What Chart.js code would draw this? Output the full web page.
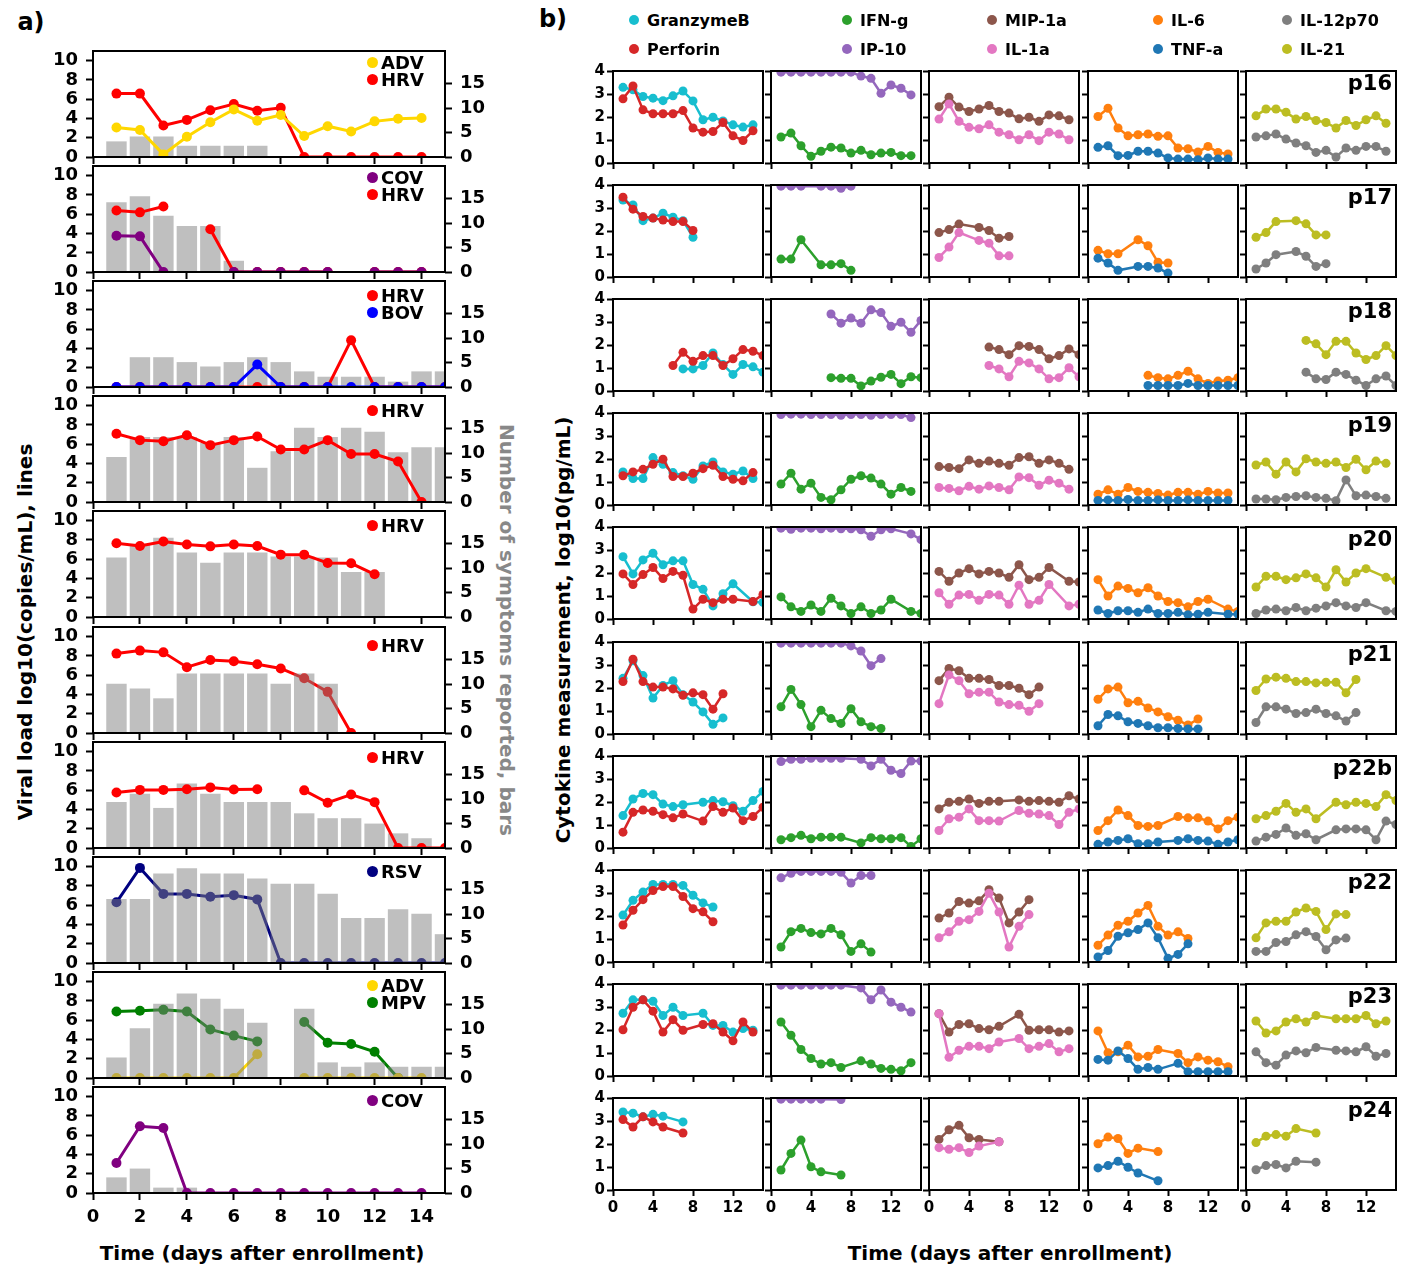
<!DOCTYPE html>
<html>
<head>
<meta charset="utf-8">
<title>Viral load, symptoms and cytokines</title>
<script src="https://cdn.jsdelivr.net/npm/chart.js@4.4.1/dist/chart.umd.min.js"></script>
<style>
  html, body { margin: 0; padding: 0; background: #fff; }
  body { position: relative; width: 1406px; height: 1270px; overflow: hidden; font-family: 'DejaVu Sans', sans-serif; color: #000; }
  canvas { position: absolute; }
  .txt { position: absolute; white-space: nowrap; font-weight: bold; }
  .ctr { transform: translate(-50%, -50%); }
  .up { transform: translate(-50%, -50%) rotate(-90deg); }
  .down { transform: translate(-50%, -50%) rotate(90deg); }
  .dot { display: inline-block; border-radius: 50%; flex: none; }
</style>
</head>
<body>
<div class="txt ctr" style="left:31px; top:22px; font-size:24px;">a)</div>
<div class="txt ctr" style="left:553px; top:19px; font-size:24px;">b)</div>
<div class="txt up" style="left:25px; top:632px; font-size:20px;">Viral load log10(copies/mL), lines</div>
<div class="txt down" style="left:507px; top:630px; font-size:20px; color:#888;">Number of symptoms reported, bars</div>
<div class="txt ctr" style="left:262px; top:1253px; font-size:20px;">Time (days after enrollment)</div>
<div class="txt up" style="left:563px; top:630px; font-size:20px;">Cytokine measurement, log10(pg/mL)</div>
<div class="txt ctr" style="left:1010px; top:1253px; font-size:20px;">Time (days after enrollment)</div>
<script>
// ---------- panel a: viral load (lines, left axis) and symptoms (bars, right axis), day 1..15
const rowViruses = [['ADV', 'HRV'], ['COV', 'HRV'], ['HRV', 'BOV'], ['HRV'], ['HRV'], ['HRV'], ['HRV'], ['RSV'], ['ADV', 'MPV'], ['COV']];

const viralLoad = [
  [[3.07, 2.8, 0.27, 2.1, 3.6, 4.94, 3.77, 4.36, 2.18, 3.2, 2.65, 3.7, 3.97, 4.05],
   [6.58, 6.58, 3.27, 3.85, 4.86, 5.5, 4.8, 5.1, 0, 0, 0, 0, 0, 0]],
  [[3.77, 3.7, 0, null, null, 0, 0, 0, 0, 0, null, 0, 0, 0],
   [6.38, 6.19, 6.8, null, 4.44, 0, 0, 0, 0, 0, null, 0, 0, 0]],
  [[0, 0, 0, 0, 0, 0, 0, 0, 0, 0, 4.86, 0, 0, 0, 0],
   [0, 0, 0, 0, 0, 0, 2.33, 0, 0, 0, 0, 0, 0, 0, 0]],
  [[7.08, 6.42, 6.3, 6.93, 5.9, 6.42, 6.8, 5.45, 5.45, 6.42, 4.98, 4.98, 4.2, 0]],
  [[7.65, 7.37, 7.84, 7.53, 7.33, 7.53, 7.37, 6.47, 6.47, 5.6, 5.57, 4.43]],
  [[8.24, 8.55, 8.37, 6.83, 7.58, 7.44, 7.14, 6.7, 5.68, 4.27, 0]],
  [[5.76, 6.03, 6.03, 6.1, 6.29, 6.07, 6.1, null, 5.98, 4.7, 5.55, 4.76, 0, 0, 0]],
  [[6.3, 9.87, 7.17, 7.17, 6.87, 7.04, 6.6, 0, 0, 0, 0, 0, 0, 0, 0]],
  [[0, 0, 0, 0, 0, 0, 2.46, null, 0, 0, 0, 0, 0, 0],
   [6.9, 6.98, 7.07, 6.9, 5.04, 4.4, 3.8, null, 5.82, 3.66, 3.53, 2.72, 0]],
  [[3.12, 6.93, 6.75, 0, 0, 0, 0, 0, 0, 0, 0, 0, 0, 0]]
];

const symptoms = [
  [3.2, 4.2, 4.2, 2.3, 2.3, 2.3, 2.3],
  [14.3, 15.5, 11.5, 9.4, 9.4, 2.3],
  [null, 6.1, 6.1, 5.1, 4.2, 5.1, 6.1, 5.1, 3.2, 2.1, 2.1, 2.1, 1.1, 3.2, 3.2],
  [9.2, 13.3, 13.3, 13.3, 12.1, 13.3, 7.0, 10.4, 15.2, 13.3, 15.2, 14.4, 10.2, 11.2, 11.2],
  [12.2, 15.0, 16.2, 13.2, 11.1, 13.2, 13.2, 12.4, 12.4, 12.2, 9.2, 9.2],
  [10.1, 9.1, 7.1, 12.2, 12.2, 12.2, 12.2, 10.1, 12.2, 10.1],
  [9.4, 11.1, 8.2, 13.2, 11.1, 9.4, 9.4, 9.4, 7.1, 6.1, 6.1, 5.0, 3.0, 2.0],
  [13.1, 13.1, 18.3, 19.4, 18.3, 18.3, 17.3, 16.2, 16.2, 14.2, 9.2, 9.2, 11.0, 10.1, 5.9],
  [4.2, 10.2, 15.2, 17.3, 16.2, 14.2, 11.3, null, 14.2, 3.2, 2.3, 3.2, 2.3, 2.3, 2.3],
  [3.2, 5.0, 1.1, 1.1]
];

// ---------- panel b: cytokines, one sub-array per patient, day 1..15
const patients = ['p16', 'p17', 'p18', 'p19', 'p20', 'p21', 'p22b', 'p22', 'p23', 'p24'];
const _ = null;

const granzymeB = [
  [3.29, 3.18, 2.89, 2.82, 2.71, 2.92, 3.13, 2.7, 1.88, 1.99, 1.83, 1.66, 1.56, 1.66],
  [3.35, 3.13, 2.45, 2.56, 2.77, 2.6, 2.45, 1.73],
  [_, _, _, _, _, _, 0.96, 0.96, 1.11, 1.65, 1.15, 0.72, 1.15, 1.05, 0.82],
  [1.44, 1.15, 1.15, 2.06, 1.77, 1.41, 1.27, 1.12, 1.7, 1.87, 1.44, 1.34, 1.48, 1.15],
  [2.71, 1.96, 2.57, 2.86, 2.36, 2.53, 2.53, 1.5, 1.29, 0.57, 1.1, 1.53, _, 0.75, 0.72],
  [2.42, 3.18, 2.54, 1.56, 2.11, 2.32, 1.71, 1.39, 0.96, 0.42, 0.7],
  [1.41, 2.13, 2.37, 2.32, 1.91, 1.8, 1.88, _, 1.99, 2.06, 2.01, 1.84, 1.6, 2.06, 2.46],
  [2.04, 2.68, 3.04, 3.37, 3.37, 3.37, 3.33, 2.9, 2.57, 2.39],
  [2.73, 3.31, 3.31, 3.25, 2.63, 2.99, 2.63, _, 2.73, 2.2, 2.2, 1.91, 2.06, 1.99],
  [3.39, 3.34, 3.18, 3.29, 3.21, _, 2.96]
];
const perforin = [
  [2.79, 3.35, 2.31, 2.14, 2.14, 2.14, 2.28, 1.52, 1.34, 1.37, 1.76, 1.18, 0.98, 1.4],
  [3.47, 2.95, 2.63, 2.56, 2.48, 2.41, 2.41, 2.02],
  [_, _, _, _, _, 1.11, 1.68, 1.29, 1.54, 1.54, 1.11, 1.4, 1.8, 1.73, 1.54],
  [1.27, 1.44, 1.55, 1.77, 1.99, 1.24, 1.24, 1.38, 1.58, 1.73, 1.24, 1.12, 1.05, 1.41],
  [1.96, 1.5, 1.93, 2.24, 1.76, 2.07, 1.9, 0.43, 0.86, 0.71, 0.86, 0.86, _, 0.76, 1.07],
  [2.28, 3.25, 2.28, 2.04, 2.04, 1.96, 1.68, 1.79, 1.71, 1.08, 1.75],
  [0.69, 1.55, 1.65, 1.6, 1.45, 1.31, 1.48, _, 1.17, 1.8, 1.55, 1.74, 1.19, 1.37, 1.77],
  [1.61, 2.25, 2.71, 3.11, 3.28, 3.28, 2.85, 2.32, 2.18, 1.75],
  [2.01, 2.99, 3.31, 2.82, 1.91, 2.45, 1.99, _, 2.24, 2.27, 1.91, 1.53, 2.35, 1.91],
  [3.06, 2.74, 3.18, 2.96, 2.74, _, 2.48]
];
const ifnG = [
  [1.13, 1.3, 0.75, 0.29, 0.51, 0.69, 0.65, 0.43, 0.55, 0.36, 0.43, 0.46, 0.32, 0.32],
  [0.78, 0.78, 1.62, _, 0.53, 0.53, 0.58, 0.29],
  [_, _, _, _, _, 0.58, 0.55, 0.55, 0.22, 0.43, 0.6, 0.72, 0.32, 0.62, 0.58],
  [0.91, 1.38, 0.69, 0.95, 0.33, 0.23, 0.66, 1.12, 1.27, 1.17, 0.91, 0.47, 0.76, 0.59],
  [0.96, 0.53, 0.33, 0.61, 0.33, 0.9, 0.57, 0.24, 0.53, 0.24, 0.39, 0.86, _, 0.33, 0.24],
  [1.18, 1.94, 1.28, 0.32, 1.03, 0.67, 0.46, 1.1, 0.53, 0.32, 0.24],
  [0.36, 0.45, 0.55, 0.4, 0.47, 0.47, 0.47, _, 0.22, 0.45, 0.4, 0.4, 0.45, 0.07, 0.4],
  [0.65, 1.32, 1.46, 1.28, 1.22, 1.46, 1.18, 0.46, 0.79, 0.43],
  [2.35, 1.77, 1.15, 0.76, 0.52, 0.58, 0.37, _, 0.66, 0.52, 0.33, 0.29, 0.23, 0.58],
  [0.87, 1.59, 2.17, 1.01, 0.79, _, 0.65]
];
const ip10 = [
  [3.95, 3.95, 3.95, 3.95, 3.95, 3.95, 3.95, 3.95, 3.78, 3.68, 3.03, 3.39, 3.25, 2.96],
  [3.95, 3.95, 3.95, _, 3.95, 3.95, 3.86, 3.95],
  [_, _, _, _, _, 3.35, 2.95, 3.17, 2.95, 3.53, 3.41, 2.81, 2.99, 2.55, 3.07],
  [3.93, 3.95, 3.95, 3.93, 3.93, 3.93, 3.9, 3.93, 3.93, 3.9, 3.93, 3.93, 3.93, 3.8],
  [3.95, 3.9, 3.95, 3.95, 3.92, 3.95, 3.92, 3.92, 3.88, 3.6, 3.88, 3.92, _, 3.7, 3.45],
  [3.95, 3.95, 3.95, 3.95, 3.95, 3.95, 3.95, 3.83, 3.61, 2.97, 3.28],
  [3.76, 3.86, 3.86, 3.9, 3.9, 3.9, 3.9, _, 3.86, 3.57, 3.86, 3.38, 3.24, 3.78, 3.78],
  [3.66, 3.86, 3.94, 3.94, 3.94, 3.94, 3.9, 3.43, 3.76, 3.76],
  [3.95, 3.95, 3.95, 3.95, 3.95, 3.95, 3.95, _, 3.83, 3.31, 3.74, 3.21, 2.99, 2.78],
  [3.95, 3.95, 3.95, 3.95, 3.95, _, 3.93]
];
const mip1a = [
  [2.45, 2.86, 2.43, 2.24, 2.35, 2.5, 2.24, 2.17, 1.92, 1.99, 1.81, 2.09, 2.05, 1.88],
  [1.93, 2.06, 2.3, _, 2.15, 2.02, 1.69, 1.76],
  [_, _, _, _, _, 1.91, 1.8, 1.58, 1.97, 1.94, 1.8, 1.4, 1.54, 1.83, 1.58],
  [1.67, 1.63, 1.58, 1.96, 1.81, 1.91, 1.81, 1.73, 2.06, 2.1, 1.81, 1.96, 1.81, 1.55],
  [2.07, 1.64, 2.0, 2.19, 1.96, 2.07, 2.0, 1.81, 2.36, 1.71, 1.81, 2.24, _, 1.64, 1.61],
  [2.32, 2.85, 2.75, 2.42, 2.42, 2.37, 2.11, 2.11, 1.99, 1.71, 2.04],
  [1.7, 1.99, 2.03, 2.13, 1.94, 2.03, 2.03, _, 2.09, 2.03, 2.06, 2.03, 1.99, 2.27, 2.13],
  [1.91, 2.13, 2.63, 2.56, 2.66, 3.14, 2.78, 1.7, 2.17, 2.71],
  [2.71, 1.91, 2.24, 2.27, 2.06, 2.01, 2.16, _, 2.68, 1.99, 2.01, 2.01, 1.91, 1.96],
  [2.2, 2.62, 2.81, 2.27, 2.2, _, 2.1]
];
const il1a = [
  [1.91, 2.57, 1.81, 1.55, 1.49, 1.66, 1.34, 1.23, 1.01, 1.23, 0.97, 1.34, 1.26, 1.01],
  [0.85, 1.3, 1.93, _, 1.59, 1.47, 0.92, 0.92],
  [_, _, _, _, _, 1.11, 0.96, 0.62, 1.29, 1.22, 0.96, 0.53, 0.58, 1.01, 0.62],
  [0.76, 0.72, 0.62, 0.81, 0.69, 0.83, 0.76, 0.66, 1.22, 1.19, 0.86, 1.08, 0.95, 0.69],
  [1.14, 0.64, 1.04, 1.07, 0.81, 1.07, 1.04, 0.64, 1.47, 0.64, 0.81, 1.5, _, 0.57, 0.64],
  [1.32, 2.57, 2.32, 1.75, 1.82, 1.82, 1.39, 1.28, 1.25, 0.99, 1.32],
  [0.76, 1.27, 1.34, 1.7, 1.19, 1.19, 1.17, _, 1.63, 1.51, 1.48, 1.41, 1.02, 1.55, 1.7],
  [1.05, 1.31, 1.77, 1.84, 2.2, 2.99, 2.17, 0.65, 1.55, 2.06],
  [2.71, 0.81, 1.12, 1.29, 1.29, 1.19, 1.48, _, 1.63, 1.19, 1.29, 1.41, 1.05, 1.19],
  [1.84, 1.77, 1.84, 1.63, 1.91, _, 2.1]
];
const il6 = [
  [2.02, 2.38, 1.52, 1.18, 1.23, 1.26, 1.16, 1.18, 0.65, 0.62, 0.48, 0.72, 0.46, 0.39],
  [1.16, 1.01, 1.01, _, 1.62, 1.36, 0.64, 0.61],
  [_, _, _, _, _, 0.68, 0.58, 0.53, 0.68, 0.86, 0.53, 0.33, 0.43, 0.47, 0.58],
  [0.47, 0.66, 0.47, 0.76, 0.59, 0.55, 0.5, 0.43, 0.55, 0.55, 0.47, 0.59, 0.52, 0.52],
  [1.71, 1.0, 1.43, 1.33, 1.14, 1.36, 1.0, 0.76, 0.71, 0.53, 0.76, 0.86, _, 0.43, 0.33],
  [1.51, 1.96, 2.04, 1.36, 1.42, 1.13, 0.96, 0.75, 0.6, 0.39, 0.65],
  [0.76, 1.19, 1.65, 1.41, 0.98, 0.94, 0.98, _, 1.37, 1.31, 1.31, 1.17, 0.83, 1.19, 1.34],
  [0.73, 1.17, 1.6, 1.77, 2.13, 2.46, 1.55, 1.17, 1.31, 1.02],
  [1.96, 1.01, 1.05, 1.34, 0.83, 0.86, 1.15, _, 0.98, 0.58, 0.83, 0.69, 0.62, 0.4],
  [2.01, 2.3, 2.24, 1.59, 1.82, _, 1.67]
];
const tnfA = [
  [0.68, 0.75, 0.32, 0.33, 0.51, 0.51, 0.43, 0.22, 0.17, 0.17, 0.14, 0.22, 0.17, 0.17],
  [0.82, 0.61, 0.29, _, 0.46, 0.46, 0.39, 0.17],
  [_, _, _, _, _, 0.24, 0.24, 0.24, 0.24, 0.33, 0.24, 0.24, 0.24, 0.24, 0.24],
  [0.2, 0.22, 0.2, 0.24, 0.2, 0.2, 0.22, 0.2, 0.2, 0.22, 0.2, 0.2, 0.2, 0.2],
  [0.39, 0.24, 0.36, 0.36, 0.29, 0.43, 0.24, 0.24, 0.29, 0.19, 0.21, 0.29, _, 0.21, 0.21],
  [0.36, 0.85, 0.79, 0.53, 0.46, 0.36, 0.27, 0.27, 0.24, 0.22, 0.22],
  [0.16, 0.26, 0.33, 0.4, 0.19, 0.19, 0.26, _, 0.33, 0.4, 0.33, 0.3, 0.16, 0.26, 0.36],
  [0.22, 0.5, 1.12, 1.27, 1.41, 1.7, 1.05, 0.16, 0.33, 0.79],
  [0.72, 0.69, 1.09, 0.76, 0.29, 0.37, 0.29, _, 0.55, 0.19, 0.19, 0.19, 0.19, 0.19],
  [0.96, 1.06, 1.25, 0.99, 0.74, _, 0.4]
];
const il12p70 = [
  [1.13, 1.18, 1.26, 1.04, 0.87, 0.75, 0.46, 0.55, 0.26, 0.65, 0.55, 0.72, 0.72, 0.51],
  [0.35, 0.61, 0.97, _, 1.11, 0.9, 0.46, 0.58],
  [_, _, _, _, _, 0.82, 0.53, 0.5, 0.82, 0.72, 0.47, 0.24, 0.53, 0.65, 0.24],
  [0.26, 0.26, 0.23, 0.33, 0.37, 0.4, 0.33, 0.29, 0.19, 1.09, 0.4, 0.43, 0.37, 0.29],
  [0.24, 0.39, 0.43, 0.36, 0.5, 0.36, 0.47, 0.57, 0.71, 0.57, 0.5, 0.71, _, 0.36, 0.33],
  [0.5, 1.18, 1.18, 1.08, 0.89, 0.93, 1.08, 0.89, 0.79, 0.56, 0.93],
  [0.3, 0.47, 0.59, 0.87, 0.55, 0.62, 0.36, _, 0.79, 0.83, 0.83, 0.79, 0.36, 1.17, 1.02],
  [0.46, 0.46, 0.85, 0.89, 1.18, 1.32, 1.11, 0.53, 0.96, 1.04],
  [1.05, 0.58, 0.47, 0.91, 1.09, 1.01, 1.24, _, 1.12, 1.09, 1.05, 1.27, 0.86, 0.98],
  [0.88, 1.06, 1.11, 0.96, 1.25, _, 1.21]
];
const il21 = [
  [2.05, 2.35, 2.35, 2.21, 1.91, 2.02, 1.85, 1.76, 1.52, 1.85, 1.63, 1.88, 2.05, 1.73],
  [1.73, 1.93, 2.41, _, 2.45, 2.31, 1.83, 1.83],
  [_, _, _, _, _, 2.2, 2.05, 1.58, 2.16, 2.16, 1.65, 1.37, 1.54, 1.97, 1.54],
  [1.74, 1.87, 1.34, 1.87, 1.44, 2.01, 1.87, 1.81, 1.87, 1.63, 1.99, 1.53, 1.91, 1.81],
  [1.39, 1.86, 1.86, 1.71, 1.79, 1.96, 1.79, 1.39, 2.14, 1.61, 2.0, 2.19, _, 1.81, 1.67],
  [1.89, 2.39, 2.47, 2.42, 2.28, 2.28, 2.22, 2.25, 2.25, 1.79, 2.37],
  [1.27, 1.41, 1.6, 1.94, 1.55, 1.7, 1.27, _, 1.99, 1.88, 1.99, 1.94, 1.8, 2.32, 2.06],
  [1.05, 1.7, 1.77, 1.77, 2.17, 2.35, 2.2, 1.41, 2.09, 2.06],
  [2.39, 1.87, 1.96, 2.35, 2.49, 2.35, 2.63, _, 2.49, 2.49, 2.49, 2.63, 2.27, 2.39],
  [2.06, 2.34, 2.41, 2.34, 2.67, _, 2.48]
];

// ---------- styling / layout
const virusColors = { HRV: '#ff0000', ADV: '#ffd700', COV: '#800080', BOV: '#0000ff', RSV: '#000080', MPV: '#008000' };
const onTop = ['ADV', 'COV', 'BOV', null, null, null, null, null, 'ADV', null];
const barsFront = [false, false, false, false, false, true, false, true, true, false];
const legendDy = [11, 11, 14, 14, 14, 18, 15, 14, 13, 13];

const cytoPairs = [
  [['GranzymeB', granzymeB, '#17becf'], ['Perforin', perforin, '#d62728']],
  [['IFN-g', ifnG, '#2ca02c'], ['IP-10', ip10, '#9467bd']],
  [['MIP-1a', mip1a, '#8c564b'], ['IL-1a', il1a, '#e377c2']],
  [['IL-6', il6, '#ff7f0e'], ['TNF-a', tnfA, '#1f77b4']],
  [['IL-12p70', il12p70, '#7f7f7f'], ['IL-21', il21, '#bcbd22']]
];
const legendDotX = [634, 847, 992, 1158, 1287];

const A_LEFT = 93, A_W = 352, A_H = 106;
const aRowTop = [51, 166, 281, 396, 511, 627, 742, 857, 972, 1087];
const B_W = 150, B_H = 92;
const bColLeft = [613, 771, 929, 1088, 1246];
const bRowTop = [71, 185, 299, 413, 527, 642, 756, 870, 984, 1098];

Chart.defaults.font.family = "'DejaVu Sans', sans-serif";
Chart.defaults.color = '#000';

const framePlugin = {
  id: 'frame',
  afterDatasetsDraw(chart) {
    const { ctx, chartArea: a } = chart;
    ctx.save();
    ctx.strokeStyle = '#000';
    ctx.lineWidth = 2;
    ctx.strokeRect(a.left, a.top, a.right - a.left, a.bottom - a.top);
    ctx.restore();
  }
};

function pts(vals) {
  return vals.map((v, i) => ({ x: i + 1, y: v }));
}
function fixedTicks(list) {
  return s => { s.ticks = list.map(v => ({ value: v })); };
}
function tickGrid(len) {
  return { display: true, offset: false, drawOnChartArea: false, drawTicks: true, tickLength: len, tickWidth: 2, tickColor: '#000' };
}
function addCanvas(left, top, w, h) {
  const cv = document.createElement('canvas');
  cv.width = w; cv.height = h;
  cv.style.left = left + 'px';
  cv.style.top = top + 'px';
  document.body.appendChild(cv);
  return cv;
}
function addDiv(html, css) {
  const d = document.createElement('div');
  d.innerHTML = html;
  d.style.cssText = css;
  document.body.appendChild(d);
  return d;
}

// ---------- panel a
aRowTop.forEach((top, k) => {
  const last = k === aRowTop.length - 1;
  const bottomH = last ? 46 : 24;
  const cv = addCanvas(A_LEFT - 60, top - 24, 60 + A_W + 60, 24 + A_H + bottomH);

  const lines = rowViruses[k].map((name, j) => ({
    type: 'line',
    label: name,
    data: pts(viralLoad[k][j]),
    borderColor: virusColors[name],
    backgroundColor: virusColors[name],
    pointBackgroundColor: virusColors[name],
    borderWidth: 3,
    pointRadius: 5,
    pointBorderWidth: 0,
    spanGaps: false,
    clip: 0,
    yAxisID: 'y',
    order: name === onTop[k] ? 0 : 1
  }));
  const bars = {
    type: 'bar',
    label: 'symptoms',
    data: pts(symptoms[k]),
    backgroundColor: 'rgba(128,128,128,0.5)',
    borderWidth: 0,
    barPercentage: 0.87,
    categoryPercentage: 1,
    clip: 0,
    yAxisID: 'y2',
    order: barsFront[k] ? -1 : 5
  };

  new Chart(cv, {
    type: 'bar',
    data: { datasets: [...lines, bars] },
    options: {
      responsive: false,
      devicePixelRatio: 1,
      animation: false,
      events: [],
      layout: { padding: { top: 24, left: 0, right: 0, bottom: 0 } },
      plugins: { legend: { display: false }, tooltip: { enabled: false } },
      scales: {
        x: {
          type: 'linear', min: 0, max: 15, offset: false,
          afterBuildTicks: fixedTicks([0, 2, 4, 6, 8, 10, 12, 14]),
          afterFit: s => { s.height = bottomH; },
          grid: tickGrid(7),
          border: { display: false },
          ticks: { display: last, font: { size: 18, weight: 'bold' }, padding: 7, maxRotation: 0, autoSkip: false }
        },
        y: {
          position: 'left', min: 0, max: 11,
          afterBuildTicks: fixedTicks([0, 2, 4, 6, 8, 10]),
          afterFit: s => { s.width = 60; },
          grid: tickGrid(7),
          border: { display: false },
          ticks: { font: { size: 18, weight: 'bold' }, padding: 8, autoSkip: false }
        },
        y2: {
          position: 'right', min: 0, max: 21.7,
          afterBuildTicks: fixedTicks([0, 5, 10, 15]),
          afterFit: s => { s.width = 60; },
          grid: tickGrid(7),
          border: { display: false },
          ticks: { font: { size: 18, weight: 'bold' }, padding: 8, autoSkip: false }
        }
      }
    },
    plugins: [framePlugin]
  });

  // legend inside the axes, upper right
  rowViruses[k].forEach((name, j) => {
    addDiv('<span class="dot" style="width:11px;height:11px;background:' + virusColors[name] + '"></span>' +
           '<span style="margin-left:3px">' + name + '</span>',
           'position:absolute;display:flex;align-items:center;white-space:nowrap;font:bold 18px \'DejaVu Sans\';' +
           'left:367px;top:' + (top + legendDy[k] + j * 17 - 10) + 'px;height:20px;');
  });
});

// ---------- panel b
bRowTop.forEach((top, r) => {
  const last = r === bRowTop.length - 1;
  const bottomH = last ? 34 : 14;
  bColLeft.forEach((left, c) => {
    const cv = addCanvas(left - 40, top - 14, 40 + B_W + 10, 14 + B_H + bottomH);
    const datasets = cytoPairs[c].map(([name, table, color], j) => ({
      label: name,
      data: pts(table[r]).filter(p => p.y !== null),
      borderColor: color,
      backgroundColor: color,
      pointBackgroundColor: color,
      borderWidth: 2.5,
      pointRadius: 4.5,
      pointBorderWidth: 0,
      clip: 0,
      order: j === 1 ? 0 : 1
    }));
    new Chart(cv, {
      type: 'line',
      data: { datasets },
      options: {
        responsive: false,
        devicePixelRatio: 1,
        animation: false,
        events: [],
        layout: { padding: { top: 14, left: 0, right: 10, bottom: 0 } },
        plugins: { legend: { display: false }, tooltip: { enabled: false } },
        scales: {
          x: {
            type: 'linear', min: 0, max: 15, offset: false,
            afterBuildTicks: fixedTicks([0, 4, 8, 12]),
            afterFit: s => { s.height = bottomH; },
            grid: tickGrid(6),
            border: { display: false },
            ticks: { display: last, font: { size: 15, weight: 'bold' }, padding: 3, maxRotation: 0, autoSkip: false }
          },
          y: {
            min: 0, max: 4,
            afterBuildTicks: fixedTicks([0, 1, 2, 3, 4]),
            afterFit: s => { s.width = 40; },
            grid: tickGrid(6),
            border: { display: false },
            ticks: { display: c === 0, font: { size: 15, weight: 'bold' }, padding: 2, autoSkip: false }
          }
        }
      },
      plugins: [framePlugin]
    });
  });
  addDiv(patients[r], 'position:absolute;white-space:nowrap;font:bold 21px \'DejaVu Sans\';' +
         'right:' + (1406 - 1392) + 'px;top:' + (top + 12 - 13) + 'px;line-height:26px;');
});

// panel b legend: two rows of five
cytoPairs.forEach((pair, c) => {
  pair.forEach(([name, , color], j) => {
    const cy = j === 0 ? 20 : 49;
    addDiv('<span class="dot" style="width:10px;height:10px;background:' + color + '"></span>' +
           '<span style="margin-left:8px">' + name + '</span>',
           'position:absolute;display:flex;align-items:center;white-space:nowrap;font:bold 16px \'DejaVu Sans\';' +
           'left:' + (legendDotX[c] - 5) + 'px;top:' + (cy - 10) + 'px;height:20px;');
  });
});
</script>
</body>
</html>
